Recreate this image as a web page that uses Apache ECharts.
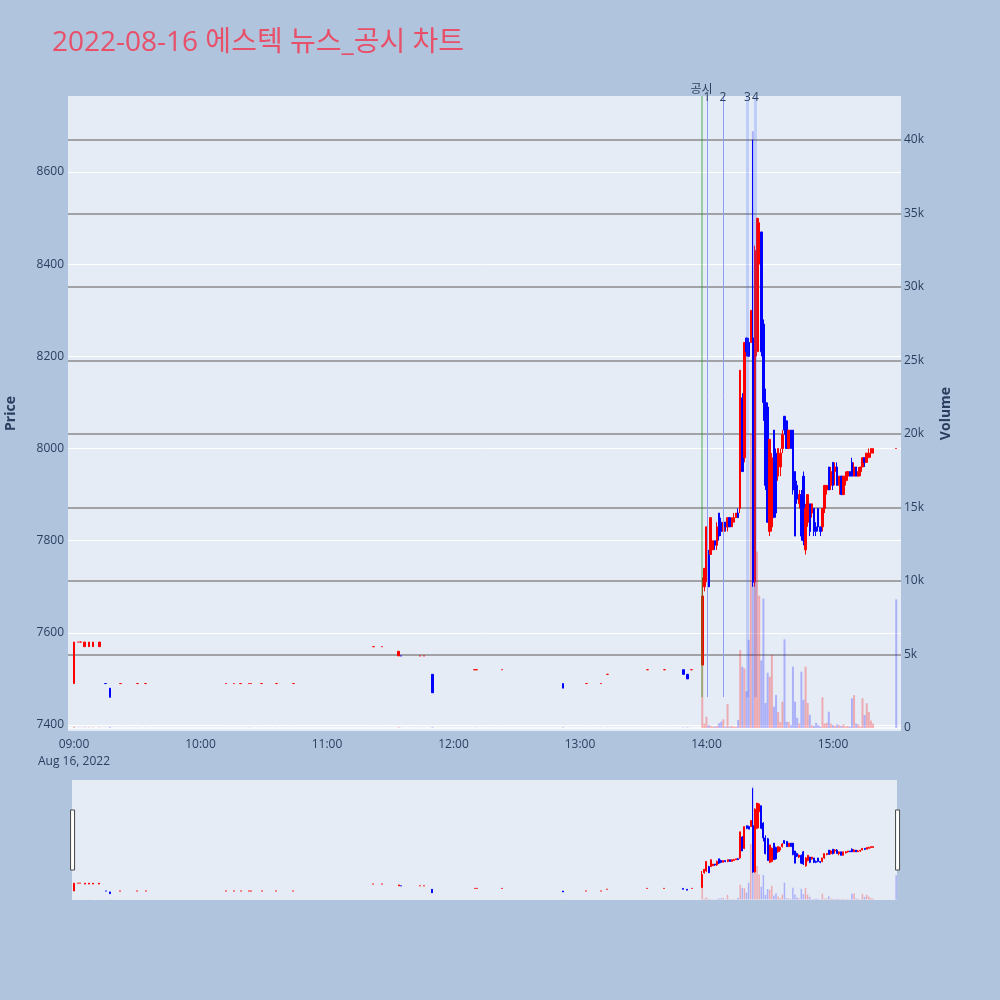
<!DOCTYPE html>
<html>
<head>
<meta charset="utf-8">
<script src="https://cdn.jsdelivr.net/npm/echarts@6/dist/echarts.min.js"></script>
<style>
html, body { margin: 0; padding: 0; background: #b0c4de; }
#chart { width: 1000px; height: 1000px; }
</style>
</head>
<body>
<div id="chart"></div>
<script>
// 분봉: [시각, 시가, 종가, 저가, 고가, 거래량]
const morningBars = [
    ['09:00', 7490, 7580, 7490, 7580, 80],
    ['09:02', 7580, 7580, 7580, 7580, 10],
    ['09:03', 7580, 7580, 7580, 7580, 10],
    ['09:05', 7570, 7580, 7570, 7580, 30],
    ['09:07', 7570, 7580, 7570, 7580, 30],
    ['09:09', 7570, 7580, 7570, 7580, 20],
    ['09:12', 7570, 7580, 7570, 7580, 30],
    ['09:15', 7490, 7490, 7490, 7490, 10],
    ['09:17', 7480, 7460, 7460, 7480, 60],
    ['09:22', 7490, 7490, 7490, 7490, 10],
    ['09:30', 7490, 7490, 7490, 7490, 10],
    ['09:34', 7490, 7490, 7490, 7490, 10],
    ['10:12', 7490, 7490, 7490, 7490, 10],
    ['10:16', 7490, 7490, 7490, 7490, 10],
    ['10:19', 7490, 7490, 7490, 7490, 10],
    ['10:23', 7490, 7490, 7490, 7490, 10],
    ['10:24', 7490, 7490, 7490, 7490, 10],
    ['10:29', 7490, 7490, 7490, 7490, 10],
    ['10:36', 7490, 7490, 7490, 7490, 10],
    ['10:44', 7490, 7490, 7490, 7490, 10],
    ['11:22', 7570, 7570, 7570, 7570, 10],
    ['11:26', 7570, 7570, 7570, 7570, 10],
    ['11:34', 7550, 7560, 7550, 7560, 40],
    ['11:35', 7550, 7550, 7550, 7550, 10],
    ['11:44', 7550, 7550, 7550, 7550, 10],
    ['11:46', 7550, 7550, 7550, 7550, 10],
    ['11:50', 7510, 7470, 7470, 7510, 50],
    ['12:10', 7520, 7520, 7520, 7520, 10],
    ['12:11', 7520, 7520, 7520, 7520, 10],
    ['12:23', 7520, 7520, 7520, 7520, 10],
    ['12:52', 7490, 7480, 7480, 7490, 40],
    ['13:03', 7490, 7490, 7490, 7490, 10],
    ['13:10', 7490, 7490, 7490, 7490, 10],
    ['13:13', 7510, 7510, 7510, 7510, 10],
    ['13:32', 7520, 7520, 7520, 7520, 10],
    ['13:40', 7520, 7520, 7520, 7520, 10],
    ['13:49', 7520, 7510, 7510, 7520, 30],
    ['13:51', 7510, 7500, 7500, 7510, 30],
    ['13:53', 7520, 7520, 7520, 7520, 10]
];

const afternoonBars = [
    ['13:58', 7530, 7680, 7530, 7720, 5200],
    ['13:59', 7700, 7740, 7690, 7740, 300],
    ['14:00', 7720, 7830, 7710, 7830, 770],
    ['14:01', 7770, 7700, 7700, 7780, 200],
    ['14:02', 7770, 7850, 7770, 7850, 150],
    ['14:03', 7780, 7800, 7780, 7800, 100],
    ['14:04', 7800, 7790, 7780, 7800, 100],
    ['14:05', 7790, 7830, 7780, 7840, 150],
    ['14:06', 7860, 7810, 7800, 7860, 330],
    ['14:07', 7840, 7820, 7810, 7850, 430],
    ['14:08', 7820, 7840, 7820, 7840, 590],
    ['14:09', 7840, 7830, 7820, 7840, 100],
    ['14:10', 7830, 7850, 7820, 7850, 1630],
    ['14:11', 7850, 7830, 7830, 7850, 100],
    ['14:12', 7830, 7850, 7830, 7850, 150],
    ['14:13', 7840, 7850, 7840, 7860, 100],
    ['14:14', 7850, 7860, 7850, 7860, 80],
    ['14:15', 7860, 7850, 7850, 7870, 540],
    ['14:16', 7870, 8170, 7860, 8170, 5300],
    ['14:17', 8110, 7950, 7950, 8120, 4170],
    ['14:18', 7980, 8230, 7970, 8230, 4060],
    ['14:19', 8240, 8210, 8200, 8240, 2500],
    ['14:20', 8230, 8200, 8200, 8240, 6000],
    ['14:21', 8230, 8300, 8230, 8300, 20000],
    ['14:22', 8240, 7710, 7700, 8670, 40600],
    ['14:23', 7710, 8430, 7700, 8440, 14000],
    ['14:24', 8210, 8500, 8200, 8500, 12000],
    ['14:25', 8400, 8490, 8210, 8500, 9000],
    ['14:26', 8470, 8210, 8200, 8470, 4600],
    ['14:27', 8270, 8100, 8060, 8280, 8800],
    ['14:28', 8100, 7920, 7910, 8130, 1700],
    ['14:29', 8090, 7840, 7840, 8100, 3760],
    ['14:30', 7820, 8020, 7810, 8020, 3490],
    ['14:31', 7830, 7980, 7820, 7990, 4970],
    ['14:32', 8040, 7850, 7850, 8040, 1450],
    ['14:33', 7990, 7860, 7850, 8000, 2240],
    ['14:34', 7940, 8000, 7930, 8000, 1100],
    ['14:35', 7960, 7990, 7940, 8000, 400],
    ['14:36', 8000, 8030, 7990, 8040, 1790],
    ['14:37', 8070, 8040, 8030, 8070, 6030],
    ['14:38', 8060, 8000, 8000, 8060, 430],
    ['14:39', 8000, 8040, 8000, 8040, 400],
    ['14:40', 8040, 8000, 8000, 8040, 200],
    ['14:41', 8040, 7910, 7900, 8040, 4170],
    ['14:42', 7950, 7810, 7810, 7950, 1790],
    ['14:43', 7920, 7890, 7880, 7930, 700],
    ['14:44', 7880, 7900, 7870, 7910, 300],
    ['14:45', 7900, 7810, 7800, 7910, 3830],
    ['14:46', 7940, 7800, 7790, 7950, 1920],
    ['14:47', 7780, 7870, 7770, 7880, 4170],
    ['14:48', 7840, 7900, 7830, 7900, 1700],
    ['14:49', 7880, 7820, 7810, 7880, 900],
    ['14:50', 7860, 7880, 7850, 7880, 200],
    ['14:51', 7870, 7820, 7810, 7870, 150],
    ['14:52', 7830, 7820, 7810, 7840, 350],
    ['14:53', 7870, 7830, 7820, 7870, 200],
    ['14:54', 7830, 7820, 7810, 7830, 100],
    ['14:55', 7830, 7870, 7820, 7870, 2090],
    ['14:56', 7870, 7920, 7860, 7920, 300],
    ['14:57', 7910, 7920, 7900, 7920, 350],
    ['14:58', 7960, 7910, 7910, 7960, 1110],
    ['14:59', 7920, 7950, 7910, 7960, 300],
    ['15:00', 7970, 7920, 7910, 7970, 200],
    ['15:01', 7950, 7960, 7920, 7970, 150],
    ['15:02', 7960, 7920, 7920, 7970, 250],
    ['15:03', 7920, 7940, 7900, 7940, 200],
    ['15:04', 7940, 7900, 7900, 7940, 150],
    ['15:05', 7900, 7940, 7900, 7940, 250],
    ['15:06', 7930, 7940, 7920, 7950, 100],
    ['15:07', 7940, 7950, 7930, 7950, 150],
    ['15:08', 7950, 7940, 7940, 7950, 100],
    ['15:09', 7970, 7940, 7940, 7980, 2020],
    ['15:10', 7940, 7960, 7940, 7970, 2240],
    ['15:11', 7960, 7940, 7940, 7960, 300],
    ['15:12', 7940, 7950, 7940, 7960, 250],
    ['15:13', 7950, 7960, 7940, 7960, 100],
    ['15:14', 7960, 7980, 7960, 7980, 2020],
    ['15:15', 7980, 7970, 7960, 7980, 880],
    ['15:16', 7970, 7990, 7970, 7990, 1680],
    ['15:17', 7980, 7990, 7980, 8000, 1090],
    ['15:18', 7990, 8000, 7980, 8000, 500],
    ['15:19', 7990, 8000, 7990, 8000, 300],
    ['15:30', 8000, 8000, 8000, 8000, 8750]
];

// 뉴스/공시 시각과 표시
const newsTimes = ['13:57:40', '14:00:10', '14:07:50', '14:19:25', '14:23:15'];
const newsLabels = ['공시', '1', '2', '3', '4'];

const timeTicks = ['09:00', '10:00', '11:00', '12:00', '13:00', '14:00', '15:00'];
const priceTicks = [7400, 7600, 7800, 8000, 8200, 8400, 8600];
const volumeTicks = [0, 5000, 10000, 15000, 20000, 25000, 30000, 35000, 40000];

const FONT = '"Open Sans", verdana, arial, "Noto Sans CJK KR", sans-serif';
const UP = '#ff0000';
const DOWN = '#0000ff';

// "HH:MM(:SS)" -> 자정부터의 분
function toMin(s) {
    const p = s.split(':').map(Number);
    return p[0] * 60 + p[1] + (p[2] || 0) / 60;
}
function fmtMin(v) {
    const h = Math.floor(v / 60);
    const m = Math.round(v - h * 60);
    return String(h).padStart(2, '0') + ':' + String(m).padStart(2, '0');
}

const bars = morningBars.concat(afternoonBars);
const candleData = bars.map(b => [toMin(b[0]), b[1], b[2], b[3], b[4]]);
const volumeData = bars.map(b => ({
    value: [toMin(b[0]), b[5]],
    itemStyle: { color: b[2] > b[1] ? 'rgba(255,0,0,0.28)' : 'rgba(0,0,255,0.25)' }
}));

const newsStyles = [
    { color: 'rgba(44,160,44,0.4)', width: 2, type: 'solid' },
    { color: '#8c9ff2', width: 1, type: 'solid' },
    { color: '#8c9ff2', width: 1, type: 'solid' },
    { color: 'rgba(60,100,255,0.22)', width: 3, type: 'solid' },
    { color: 'rgba(60,100,255,0.22)', width: 3, type: 'solid' }
];
const newsLines = newsTimes.map((t, i) => {
    const x = toMin(t);
    const lbl = {
        show: true, position: 'end', formatter: newsLabels[i],
        color: '#2a3f5f', fontSize: 12, fontFamily: FONT,
        distance: i === 0 ? 0 : -8
    };
    return [
        { coord: [x, 2100], lineStyle: newsStyles[i], label: lbl },
        { coord: [x, 42990], label: lbl }
    ];
});

const chart = echarts.init(document.getElementById('chart'));

const axisText = { color: '#2a3f5f', fontSize: 12, fontFamily: FONT };

const option = {
    backgroundColor: '#b0c4de',
    animation: false,
    title: {
        text: '2022-08-16 에스텍 뉴스_공시 차트',
        left: 47,
        top: 24,
        textStyle: { color: '#e8506a', fontSize: 28, fontWeight: 'normal', fontFamily: FONT }
    },
    grid: [
        { left: 68, right: 99, top: 96, height: 635, show: true, backgroundColor: '#e5ecf6', borderWidth: 0, outerBoundsMode: 'none', containLabel: false },
        { left: 72, right: 103, top: 780, height: 120, show: true, backgroundColor: '#e5ecf6', borderWidth: 0, outerBoundsMode: 'none', containLabel: false }
    ],
    xAxis: [
        {
            type: 'value', gridIndex: 0, min: 537.15, max: 932.26,
            axisLine: { show: false }, axisTick: { show: false, customValues: timeTicks.map(toMin) },
            splitLine: { show: false },
            axisLabel: Object.assign({}, axisText, {
                customValues: timeTicks.map(toMin),
                margin: 5,
                lineHeight: 17,
                formatter: v => fmtMin(v) + (Math.abs(v - 540) < 0.01 ? '\nAug 16, 2022' : '')
            })
        },
        {
            type: 'value', gridIndex: 1, min: 539, max: 930.4,
            axisLine: { show: false }, axisTick: { show: false },
            axisLabel: { show: false }, splitLine: { show: false }
        }
    ],
    yAxis: [
        {
            type: 'value', gridIndex: 0, position: 'left', min: 7387, max: 8765,
            name: 'Price', nameLocation: 'middle', nameGap: 50,
            nameTextStyle: { color: '#2a3f5f', fontSize: 14, fontWeight: 'bold', fontFamily: FONT },
            axisLine: { show: false },
            axisTick: { show: false, customValues: priceTicks },
            axisLabel: Object.assign({}, axisText, { customValues: priceTicks, margin: 4, formatter: v => String(v) }),
            splitLine: { show: true, lineStyle: { color: '#ffffff', width: 1 } }
        },
        {
            type: 'value', gridIndex: 0, position: 'right', min: -204, max: 42993,
            name: 'Volume', nameLocation: 'middle', nameGap: 38,
            nameTextStyle: { color: '#2a3f5f', fontSize: 14, fontWeight: 'bold', fontFamily: FONT },
            axisLine: { show: false },
            axisTick: { show: false, customValues: volumeTicks },
            axisLabel: Object.assign({}, axisText, {
                customValues: volumeTicks, margin: 3,
                formatter: v => v === 0 ? '0' : (v / 1000) + 'k'
            }),
            splitLine: {
                show: true,
                lineStyle: { color: ['#ffffff', '#8a8a8a', '#8a8a8a', '#8a8a8a', '#8a8a8a', '#8a8a8a', '#8a8a8a', '#8a8a8a', '#8a8a8a'], width: 1.5 }
            }
        },
        {
            type: 'value', gridIndex: 1, min: 7387, max: 8765,
            axisLine: { show: false }, axisTick: { show: false },
            axisLabel: { show: false }, splitLine: { show: false }
        },
        {
            type: 'value', gridIndex: 1, min: -204, max: 42993,
            axisLine: { show: false }, axisTick: { show: false },
            axisLabel: { show: false }, splitLine: { show: false }
        }
    ],
    dataZoom: [{
        type: 'slider', xAxisIndex: 1, filterMode: 'none', start: 0, end: 100,
        left: 71, right: 102, top: 780, height: 120,
        backgroundColor: 'rgba(0,0,0,0)', borderColor: 'rgba(0,0,0,0)', fillerColor: 'rgba(0,0,0,0)',
        showDataShadow: false, showDetail: false, brushSelect: false, moveHandleSize: 0,
        handleIcon: 'path://M0,0H4V60H0Z', handleSize: '50%',
        handleStyle: { color: '#ffffff', borderColor: '#444444', borderWidth: 1 },
        emphasis: { handleStyle: { color: '#ffffff', borderColor: '#444444' } },
        dataBackground: { lineStyle: { opacity: 0 }, areaStyle: { opacity: 0 } },
        selectedDataBackground: { lineStyle: { opacity: 0 }, areaStyle: { opacity: 0 } }
    }],
    series: [
        {
            name: 'Volume', type: 'bar', xAxisIndex: 0, yAxisIndex: 1,
            barWidth: 2, data: volumeData, z: 2,
            markLine: {
                silent: true, symbol: ['none', 'none'], animation: false,
                data: newsLines
            }
        },
        {
            name: 'Price', type: 'candlestick', xAxisIndex: 0, yAxisIndex: 0,
            data: candleData, encode: { x: 0, y: [1, 2, 3, 4] },
            barWidth: 2, z: 3,
            itemStyle: { color: UP, color0: DOWN, borderColor: UP, borderColor0: DOWN, borderWidth: 1 }
        },
        {
            type: 'bar', xAxisIndex: 1, yAxisIndex: 3,
            barWidth: 1.5, data: volumeData, silent: true
        },
        {
            type: 'candlestick', xAxisIndex: 1, yAxisIndex: 2,
            data: candleData, encode: { x: 0, y: [1, 2, 3, 4] },
            barWidth: 1.5, silent: true,
            itemStyle: { color: UP, color0: DOWN, borderColor: UP, borderColor0: DOWN, borderWidth: 1 }
        }
    ]
};

chart.setOption(option);
</script>
</body>
</html>
